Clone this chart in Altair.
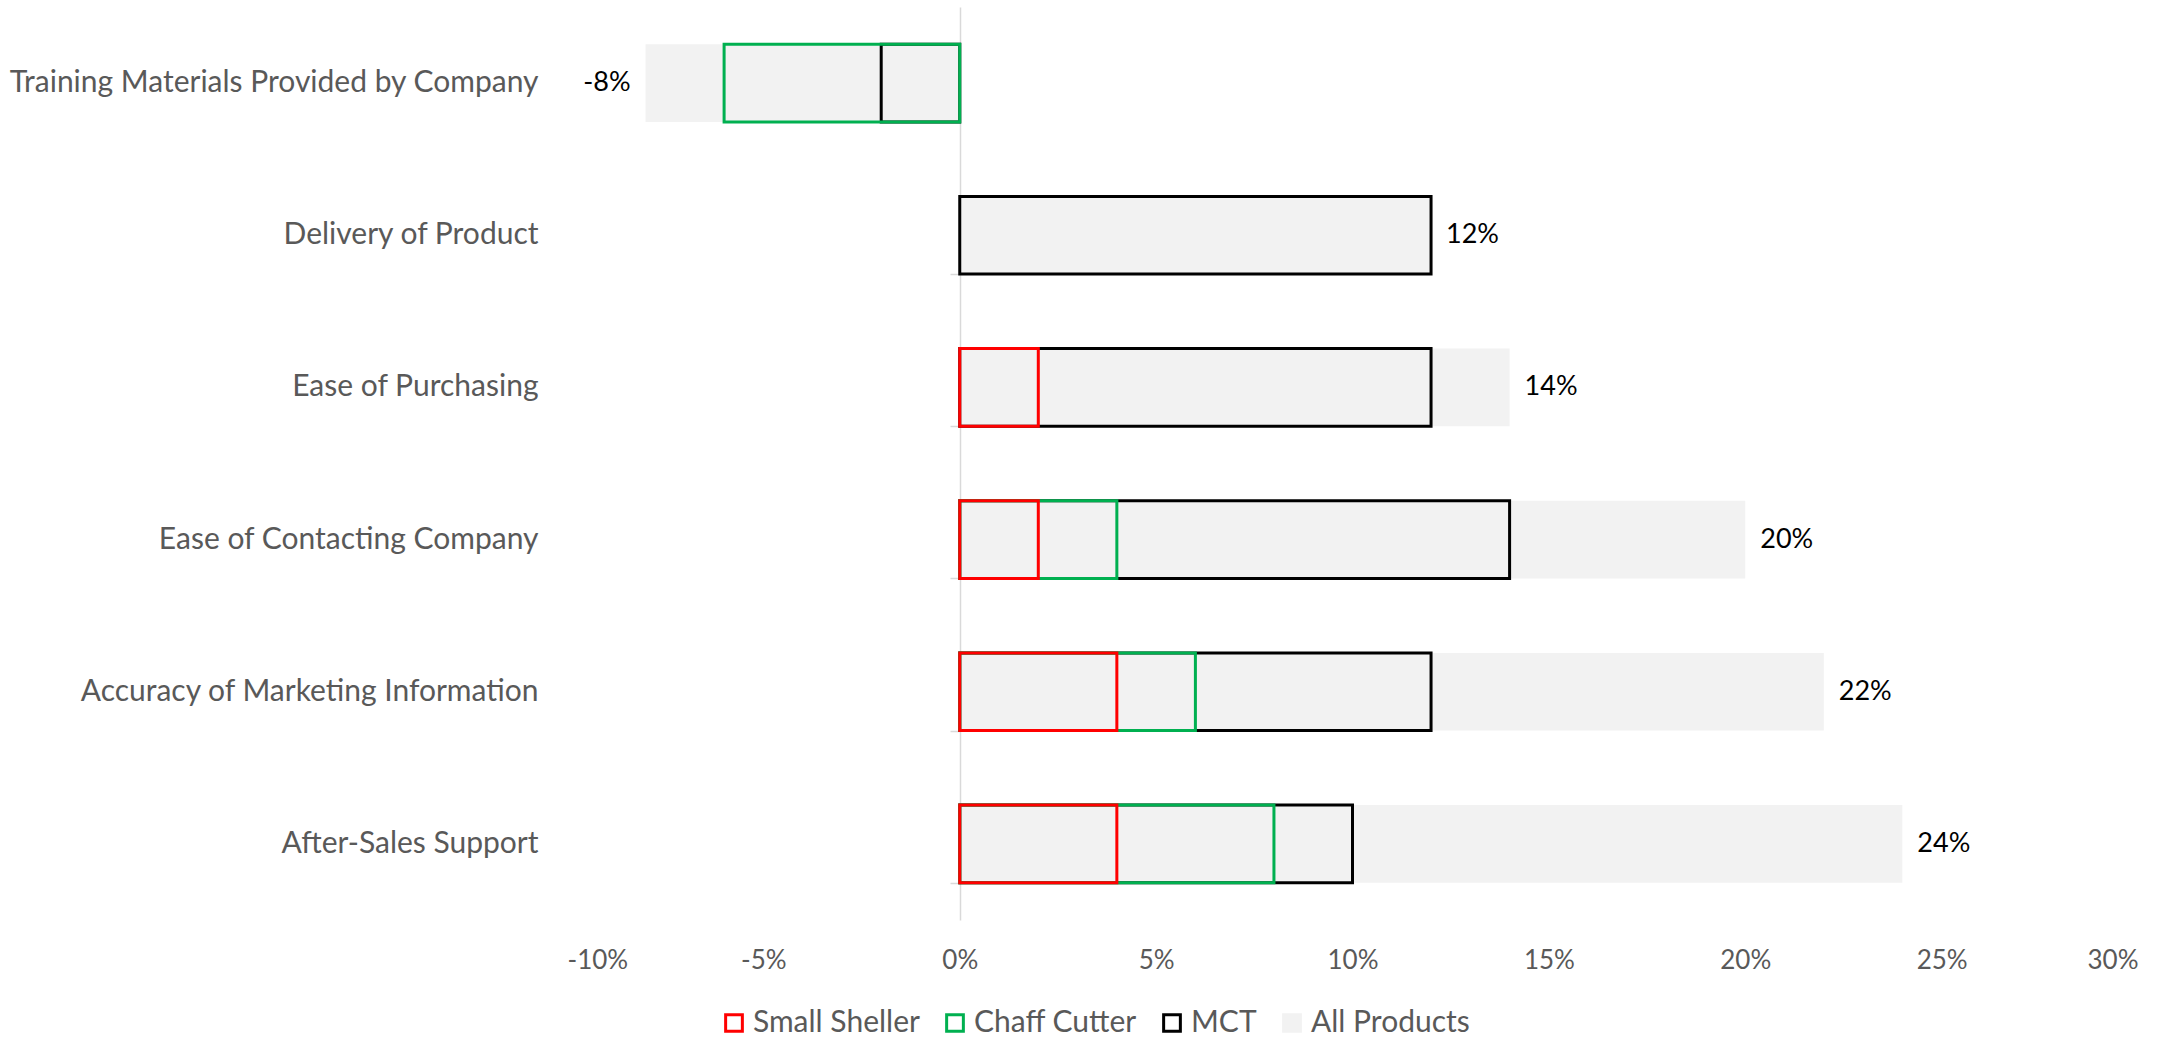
import altair as alt
import pandas as pd

categories = [
    "Training Materials Provided by Company",
    "Delivery of Product",
    "Ease of Purchasing",
    "Ease of Contacting Company",
    "Accuracy of Marketing Information",
    "After-Sales Support",
]
small_sheller = [0, 0, 2, 2, 4, 4]
chaff_cutter = [-6, 0, 0, 4, 6, 8]
mct = [-2, 12, 12, 14, 12, 10]
all_products = [-8, 12, 14, 20, 22, 24]

series_names = ["Small Sheller", "Chaff Cutter", "MCT", "All Products"]
stroke_colors = ["#FF0000", "#00B050", "#000000", "#F2F2F2"]
fill_colors = ["transparent", "transparent", "transparent", "#F2F2F2"]
x_ticks = [-10, -5, 0, 5, 10, 15, 20, 25, 30]

rows = []
for name, vals in [("All Products", all_products), ("MCT", mct),
                   ("Chaff Cutter", chaff_cutter), ("Small Sheller", small_sheller)]:
    for c, v in zip(categories, vals):
        rows.append({"category": c, "series": name, "value": v})
df = pd.DataFrame(rows)

FONT = "Lato"
FS_WORDS = 30
FS_NUM = 26
LABEL_GREY = "#595959"

W, H = 1571, 913
PAD_L, PAD_T = 567, 7

xscale = alt.Scale(domain=[-10, 30], nice=False, zero=False)
yscale = alt.Scale(domain=categories, paddingInner=0.49, paddingOuter=0.245)
stroke_scale = alt.Scale(domain=series_names, range=stroke_colors)
fill_scale = alt.Scale(domain=series_names, range=fill_colors)

legend = alt.Legend(
    title=None, orient="none", direction="horizontal",
    legendX=152, legendY=1001,
    symbolType="square", symbolSize=280, symbolStrokeWidth=3,
    labelFont=FONT, labelFontSize=FS_WORDS, labelColor=LABEL_GREY, labelLimit=400,
    labelOffset=4, columnPadding=20, symbolOpacity=1,
)

base = alt.Chart(df)

label_axis = alt.Axis(
    title=None, domain=False, ticks=False, tickSize=0, grid=False,
    labelFont=FONT, labelFontSize=FS_WORDS, labelColor=LABEL_GREY, labelPadding=29,
    labelLimit=800, orient="left",
)

bg = base.transform_filter(alt.datum.series == "All Products").mark_bar(strokeWidth=0).encode(
    x=alt.X("value:Q", scale=xscale, stack=None,
            axis=alt.Axis(title=None, values=x_ticks, domain=False, ticks=False, tickSize=0,
                          grid=False, labelFont=FONT, labelFontSize=FS_NUM, labelColor=LABEL_GREY,
                          labelPadding=27, labelExpr="datum.value + '%'")),
    x2=alt.datum(0),
    y=alt.Y("category:N", scale=yscale, sort=categories, axis=label_axis),
    fill=alt.Fill("series:N", scale=fill_scale, legend=legend),
    stroke=alt.Stroke("series:N", scale=stroke_scale, legend=legend),
)

def outline(name):
    return base.transform_filter(
        (alt.datum.series == name) & (alt.datum.value != 0)
    ).mark_bar(strokeWidth=3).encode(
        x=alt.X("value:Q", scale=xscale, stack=None),
        x2=alt.datum(0),
        y=alt.Y("category:N", scale=yscale, sort=categories, axis=None),
        fill=alt.Fill("series:N", scale=fill_scale, legend=legend),
        stroke=alt.Stroke("series:N", scale=stroke_scale, legend=legend),
    )

tick_axis = alt.Axis(
    title=None, labels=False, domain=True, ticks=True, tickBand="extent",
    domainColor="#D9D9D9", domainWidth=1.5, tickColor="#D9D9D9", tickWidth=1.5,
    tickSize=10, grid=False, orient="left", offset=-393,
)

text_base = base.transform_filter(alt.datum.series == "All Products").transform_calculate(
    label="datum.value + '%'"
)
pos_text = text_base.transform_filter(alt.datum.value >= 0).mark_text(
    align="left", baseline="middle", dx=15, font=FONT, fontSize=FS_NUM + 1, color="#000000"
).encode(
    x=alt.X("value:Q", scale=xscale),
    y=alt.Y("category:N", scale=yscale, sort=categories, axis=tick_axis),
    text="label:N",
)
neg_text = text_base.transform_filter(alt.datum.value < 0).mark_text(
    align="right", baseline="middle", dx=-15, font=FONT, fontSize=FS_NUM + 1, color="#000000"
).encode(
    x=alt.X("value:Q", scale=xscale),
    y=alt.Y("category:N", scale=yscale, sort=categories, axis=None),
    text="label:N",
)

chart = alt.layer(
    bg, outline("MCT"), outline("Chaff Cutter"), outline("Small Sheller"), pos_text, neg_text
).resolve_axis(y="independent").properties(
    width=W, height=H,
    autosize=alt.AutoSizeParams(type="none"),
    padding={"left": PAD_L, "top": PAD_T, "right": 2184 - PAD_L - W, "bottom": 1041 - PAD_T - H},
    background="white",
).configure_view(stroke=None)

chart.save("out.html", embed_options={"renderer": "svg", "actions": False})
